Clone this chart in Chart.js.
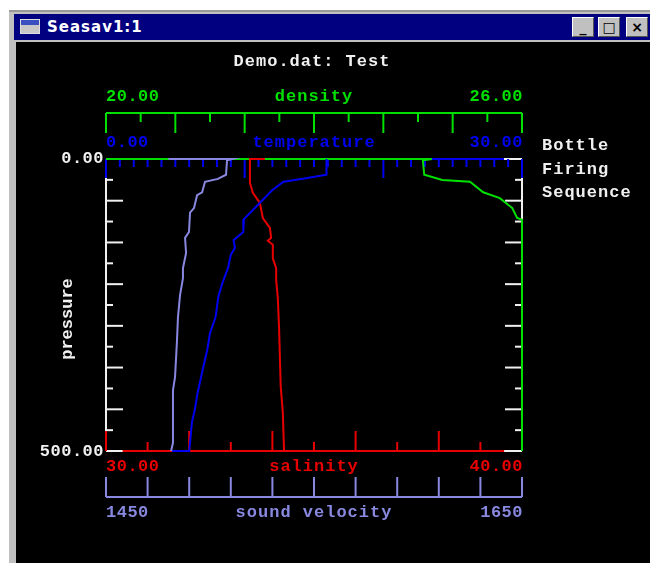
<!DOCTYPE html>
<html>
<head>
<meta charset="utf-8">
<title>Seasav1:1</title>
<script src="https://cdn.jsdelivr.net/npm/chart.js@4"></script>
<style>
    html, body { margin: 0; padding: 0; background: #fff; overflow: hidden; }
    #win { position: absolute; left: 9px; top: 10px; width: 641px; height: 553px; background: #c0c0c0; border-top: 2px solid #999; box-sizing: border-box; }
    #bar { position: absolute; left: 5px; top: 2px; right: 0; height: 26px; background: #000080; color: #fff; font: bold 15px "DejaVu Sans", sans-serif; letter-spacing: 1px; line-height: 26px; }
    #bar .name { position: absolute; left: 33px; top: 0; }
    #bar .icon { position: absolute; left: 6px; top: 5px; width: 20px; height: 15px; background: linear-gradient(#3a4fc0 0 35%, #c8c8c8 35%); border: 1px solid #ddd; box-sizing: border-box; }
    #bar .btn { position: absolute; top: 3px; width: 22px; height: 20px; background: #c0c0c0; border: 1px solid #fff; border-right-color: #555; border-bottom-color: #555; box-sizing: border-box; color: #000; font: bold 14px "DejaVu Sans", sans-serif; text-align: center; line-height: 18px; letter-spacing: 0; }
    canvas { position: absolute; left: 0; top: 0; }
</style>
</head>
<body>
<div id="win">
    <div id="bar">
        <div class="icon"></div>
        <div class="name">Seasav1:1</div>
        <div class="btn" style="left:558px">_</div>
        <div class="btn" style="left:584px">□</div>
        <div class="btn" style="left:612px">×</div>
    </div>
</div>
<div style="position:absolute;left:16px;top:42px;width:634px;height:521px;background:#000"></div>
<div style="position:relative;width:650px;height:563px"><canvas id="ctdChart" width="650" height="563"></canvas></div>
<script>
const GREEN = '#00e000', BLUE = '#0000f0', RED = '#e80000', VIOLET = '#8888e0', WHITE = '#f0f0f0';

// valores
const velocity = [1480, 1510.6, 1508.2, 1507.7, 1503.8, 1497.6, 1496.2, 1493.8, 1492.3, 1490.4, 1489.9, 1488, 1488.5, 1487, 1487, 1485.6, 1484.6, 1484.1, 1483.2, 1482.2, 1482.2, 1481.3];
const velocityP = [0, 0, 2, 27, 34, 39, 57, 62, 84, 92, 125, 135, 161, 187, 204, 233, 271, 313, 373, 396, 486, 500];

const temperature = [15.9, 15.9, 14.2, 12.8, 12.0, 11.1, 9.95, 9.9, 9.2, 9.3, 9.0, 8.8, 8.7, 8.4, 8.1, 7.9, 7.5, 7.3, 7.0, 6.6, 6.4, 6.2, 6.06, 6.0, 4.76];
const temperatureP = [0, 27, 34, 39, 53, 75, 103, 125, 139, 152, 164, 187, 193, 212, 236, 271, 298, 327, 358, 401, 430, 450, 486, 500, 500];

const salinity = [33.82, 33.46, 33.46, 33.53, 33.7, 33.77, 33.94, 33.97, 33.89, 34.01, 34.01, 34.09, 34.09, 34.13, 34.16, 34.2, 34.25, 34.28, 39.57, 30.4];
const salinityP = [0, 0, 41, 58, 75, 101, 118, 135, 140, 147, 170, 187, 207, 238, 288, 390, 433, 500, 500, 500];

const density = [20, 24.7, 24.57, 24.59, 24.85, 25.25, 25.44, 25.68, 25.86, 25.93, 26, 26];
const densityP = [0, 0, 2, 27, 36, 39, 57, 67, 84, 101, 104, 500];

const densityTicks = [20, 20.5, 21, 21.5, 22, 22.5, 23, 23.5, 24, 24.5, 25, 25.5, 26];
const temperatureTicks = [0, 1, 2, 3, 4, 5, 6, 7, 8, 9, 10, 11, 12, 13, 14, 15, 16, 17, 18, 19, 20, 21, 22, 23, 24, 25, 26, 27, 28, 29, 30];
const salinityTicks = [30, 31, 32, 33, 34, 35, 36, 37, 38, 39, 40];
const velocityTicks = [1450, 1470, 1490, 1510, 1530, 1550, 1570, 1590, 1610, 1630, 1650];
const pressureTicks = [35.7, 71.4, 107.1, 142.9, 178.6, 214.3, 250, 285.7, 321.4, 357.1, 392.9, 428.6, 464.3];
const temperatureLineEnd = 28.7;

function pts(xs, ps) {
    return xs.map((v, i) => ({ x: v, y: ps[i] }));
}

function line(c, color, x1, y1, x2, y2) {
    c.strokeStyle = color;
    c.lineWidth = 2;
    c.beginPath();
    c.moveTo(x1, y1);
    c.lineTo(x2, y2);
    c.stroke();
}

function label(c, txt, x, y, color, align, spacing) {
    c.font = 'bold 17px "Liberation Mono", monospace';
    c.letterSpacing = (spacing === undefined ? 0.5 : spacing) + 'px';
    c.fillStyle = color;
    c.textAlign = align || 'left';
    c.textBaseline = 'middle';
    c.fillText(txt, x, y + 1);
}

const axesPlugin = {
    id: 'axesPlugin',
    beforeDatasetsDraw(chart) {
        const c = chart.ctx, s = chart.scales;
        const a = chart.chartArea;
        c.save();

        // marco blanco y marcas de presion
        line(c, WHITE, a.left, a.top, a.right, a.top);
        line(c, WHITE, a.left, a.bottom, a.right, a.bottom);
        line(c, WHITE, a.left, a.top, a.left, a.bottom);
        line(c, WHITE, a.right, a.top, a.right, a.bottom);
        pressureTicks.forEach((p, i) => {
            const y = s.p.getPixelForValue(p);
            const len = i % 2 ? 17 : 7;
            line(c, WHITE, a.left, y, a.left + len, y);
            line(c, WHITE, a.right - len, y, a.right, y);
        });

        // temperatura
        temperatureTicks.forEach((t, i) => {
            const x = s.temp.getPixelForValue(t);
            line(c, BLUE, x, a.top, x, a.top + (i % 10 ? 8 : 19));
        });
        line(c, BLUE, a.left, a.top, s.temp.getPixelForValue(temperatureLineEnd), a.top);

        // salinidad
        salinityTicks.forEach((t, i) => {
            const x = s.sal.getPixelForValue(t);
            line(c, RED, x, a.bottom, x, a.bottom - (i % 2 ? 9 : 20));
        });

        // densidad (arriba)
        line(c, GREEN, a.left, 113, a.right, 113);
        densityTicks.forEach((t, i) => {
            const x = s.dens.getPixelForValue(t);
            line(c, GREEN, x, 113, x, i % 2 ? 122 : 133);
        });

        // velocidad del sonido (abajo)
        line(c, VIOLET, a.left, 497, a.right, 497);
        velocityTicks.forEach(t => {
            const x = s.vel.getPixelForValue(t);
            line(c, VIOLET, x, 477, x, 497);
        });

        // textos
        label(c, 'Demo.dat: Test', 312, 61, WHITE, 'center', 1);
        label(c, '20.00', a.left, 96, GREEN);
        label(c, 'density', 314, 96, GREEN, 'center', 1);
        label(c, '26.00', a.right + 1, 96, GREEN, 'right');
        label(c, '0.00', a.left, 142, BLUE);
        label(c, 'temperature', 314, 142, BLUE, 'center', 1);
        label(c, '30.00', a.right + 1, 142, BLUE, 'right');
        label(c, '30.00', a.left, 466, RED);
        label(c, 'salinity', 314, 466, RED, 'center', 1);
        label(c, '40.00', a.right + 1, 466, RED, 'right');
        label(c, '1450', a.left, 512, VIOLET);
        label(c, 'sound velocity', 314, 512, VIOLET, 'center', 1);
        label(c, '1650', a.right + 1, 512, VIOLET, 'right');
        label(c, '0.00', 104, 158, WHITE, 'right');
        label(c, '500.00', 104, 451, WHITE, 'right');
        label(c, 'Bottle', 542, 145, WHITE, 'left', 1);
        label(c, 'Firing', 542, 169, WHITE, 'left', 1);
        label(c, 'Sequence', 542, 192, WHITE, 'left', 1);

        c.translate(67, 319);
        c.rotate(-Math.PI / 2);
        label(c, 'pressure', 0, 0, WHITE, 'center', 0);
        c.restore();
    }
};

function serie(name, xs, ps, color, axis) {
    return {
        label: name,
        data: pts(xs, ps),
        xAxisID: axis,
        yAxisID: 'p',
        borderColor: color,
        backgroundColor: color,
        borderWidth: 2,
        pointRadius: 0,
        tension: 0,
        showLine: true,
        clip: false
    };
}

new Chart(document.getElementById('ctdChart').getContext('2d'), {
    type: 'scatter',
    data: {
        datasets: [
            serie('sound velocity', velocity, velocityP, VIOLET, 'vel'),
            serie('temperature', temperature, temperatureP, BLUE, 'temp'),
            serie('salinity', salinity, salinityP, RED, 'sal'),
            serie('density', density, densityP, GREEN, 'dens')
        ]
    },
    options: {
        responsive: false,
        animation: false,
        layout: { padding: { left: 106, right: 128, top: 159, bottom: 112 } },
        scales: {
            vel: { type: 'linear', display: false, axis: 'x', min: 1450, max: 1650 },
            temp: { type: 'linear', display: false, axis: 'x', min: 0, max: 30 },
            sal: { type: 'linear', display: false, axis: 'x', min: 30, max: 40 },
            dens: { type: 'linear', display: false, axis: 'x', min: 20, max: 26 },
            p: { type: 'linear', display: false, axis: 'y', min: 0, max: 500, reverse: true }
        },
        plugins: {
            legend: { display: false },
            tooltip: { enabled: false }
        }
    },
    plugins: [axesPlugin]
});
</script>
</body>
</html>
